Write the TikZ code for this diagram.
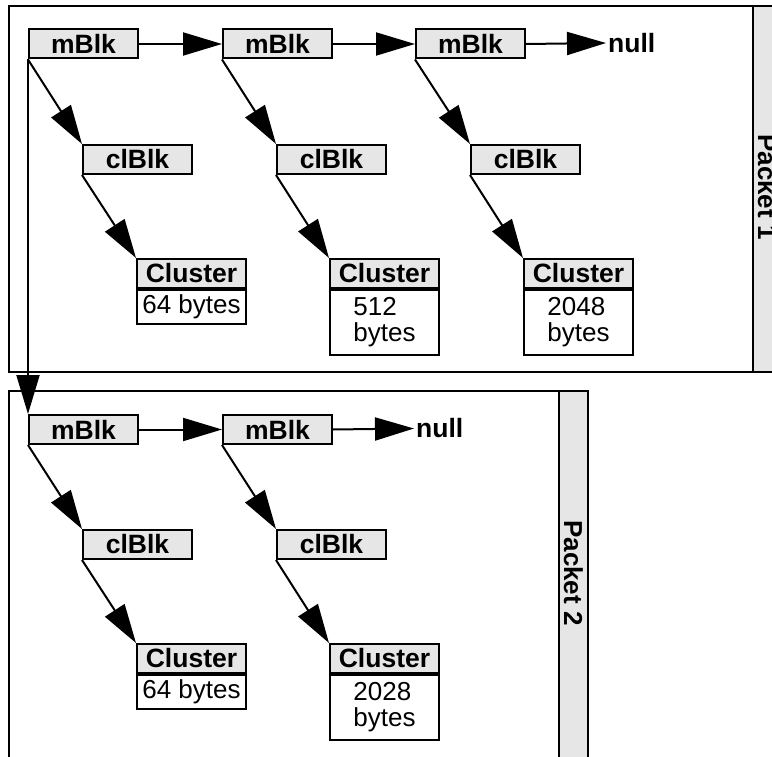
\documentclass[tikz,border=0pt]{standalone}
\usepackage{fontspec}
\setmainfont{Liberation Sans}
\usetikzlibrary{arrows.meta}
\definecolor{boxgray}{HTML}{E6E6E6}

\begin{document}
\begin{tikzpicture}[x=1pt,y=-1pt,
  blk/.style={draw,line width=2pt,fill=boxgray,minimum width=109pt,
    minimum height=29pt,inner sep=0pt,anchor=north west,
    font=\fontsize{26.5}{27}\selectfont\bfseries},
  body/.style={draw,line width=2pt,fill=white,minimum width=109pt,
    inner sep=0pt,anchor=north,align=left,
    font=\fontsize{26}{26}\selectfont},
  link/.style={line width=2pt,-{Triangle[length=39pt,width=23pt]}},
  frame/.style={line width=2.2pt},
  side/.style={frame,fill=boxgray},
  endlabel/.style={anchor=west,inner sep=2pt,font=\fontsize{26.5}{27}\selectfont\bfseries},
  packlabel/.style={rotate=-90,inner sep=0pt,font=\fontsize{26}{27}\selectfont\bfseries},
]
\clip (0,0) rectangle (772,757);

% packet frames with their grey side strips
\draw[frame] (9,6) rectangle (790,372);
\draw[side] (753,6) rectangle (790,372);
\node[packlabel] (p1) at (767.5,187) {Packet 1};

\draw[frame] (9,391) rectangle (588,770);
\draw[side] (559,391) rectangle (588,770);
\node[packlabel] (p2) at (573.5,573) {Packet 2};

% packet 1 chain
\node[blk] (m11) at (28,28.5) {mBlk};
\node[blk] (m12) at (222,28.5) {mBlk};
\node[blk] (m13) at (415,28.5) {mBlk};
\node[endlabel] (n1) at (606,43) {null};

\node[blk] (c11) at (82,144) {clBlk};
\node[blk] (c12) at (276,144) {clBlk};
\node[blk] (c13) at (470,144) {clBlk};

\node[blk] (k11) at (136,258) {Cluster};
\node[body,minimum height=34pt] (b11) at (k11.south) {64 bytes};
\node[blk] (k12) at (329,258) {Cluster};
\node[body,minimum height=65pt] (b12) at (k12.south) {512\\bytes};
\node[blk] (k13) at (523,258) {Cluster};
\node[body,minimum height=65pt] (b13) at (k13.south) {2048\\bytes};

% packet 2 chain
\node[blk] (m21) at (28,414) {mBlk};
\node[blk] (m22) at (222,414) {mBlk};
\node[endlabel] (n2) at (414,428.5) {null};

\node[blk] (c21) at (82,529) {clBlk};
\node[blk] (c22) at (276,529) {clBlk};

\node[blk] (k21) at (136,643) {Cluster};
\node[body,minimum height=34pt] (b21) at (k21.south) {64 bytes};
\node[blk] (k22) at (329,643) {Cluster};
\node[body,minimum height=65pt] (b22) at (k22.south) {2028\\bytes};

% links
\draw[link] (m11.east) -- (m12.west);
\draw[link] (m12.east) -- (m13.west);
\draw[link] (m13.east) -- (n1.west);
\draw[link] (m21.east) -- (m22.west);
\draw[link] (m22.east) -- (n2.west);

\draw[link] (m11.south west) -- (c11.north west);
\draw[link] (m12.south west) -- (c12.north west);
\draw[link] (m13.south west) -- (c13.north west);
\draw[link] (c11.south west) -- (k11.north west);
\draw[link] (c12.south west) -- (k12.north west);
\draw[link] (c13.south west) -- (k13.north west);

\draw[link] (m21.south west) -- (c21.north west);
\draw[link] (m22.south west) -- (c22.north west);
\draw[link] (c21.south west) -- (k21.north west);
\draw[link] (c22.south west) -- (k22.north west);

\draw[link] (m11.south west) -- (m21.north west);
\end{tikzpicture}
\end{document}
